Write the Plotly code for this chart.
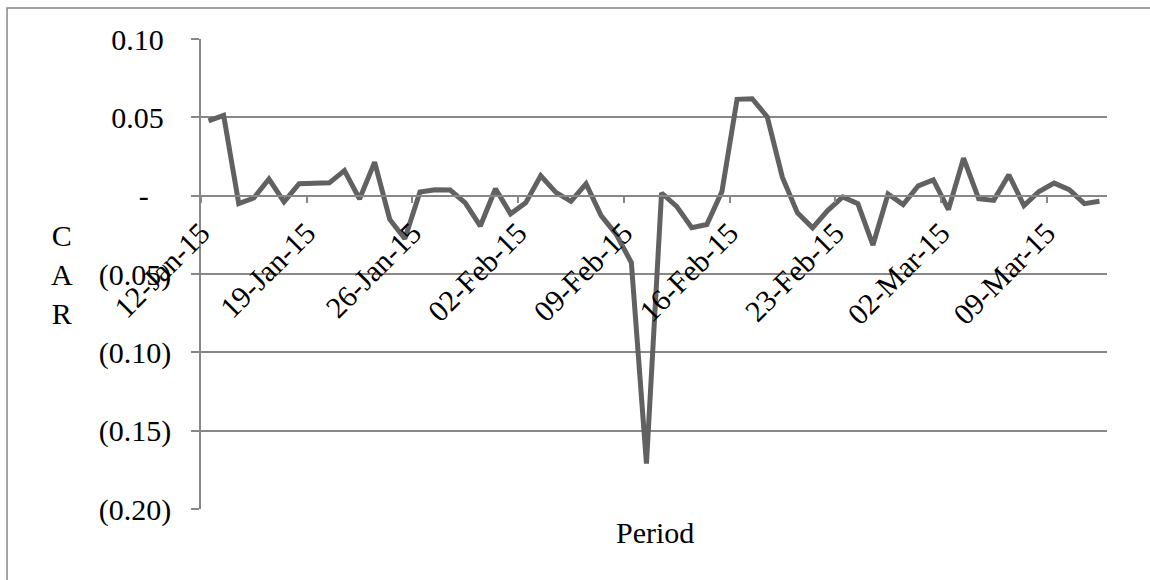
import plotly.graph_objects as go
import pandas as pd

# Daily observation dates (calendar days)
dates = pd.date_range("2015-01-12", periods=60, freq="D")

# Cumulative abnormal return values
car = [0.0477, 0.0513, -0.0051, -0.0015, 0.0106, -0.0040, 0.0076, 0.0082, 0.0082, 0.0160,
       -0.0021, 0.0214, -0.0152, -0.0275, 0.0023, 0.0038, 0.0036, -0.0046, -0.0194, 0.0044,
       -0.0116, -0.0046, 0.0127, 0.0021, -0.0036, 0.0076, -0.0127, -0.0247, -0.0427, -0.1710,
       0.0017, -0.0068, -0.0205, -0.0184, 0.0027, 0.0615, 0.0619, 0.0503, 0.0118, -0.0110,
       -0.0205, -0.0095, -0.0008, -0.0051, -0.0315, 0.0011, -0.0057, 0.0063, 0.0101, -0.0089,
       0.0239, -0.0019, -0.0030, 0.0133, -0.0063, 0.0027, 0.0080, 0.0038, -0.0051, -0.0036]

# Axis ticks
x_tick_dates = ["2015-01-12", "2015-01-19", "2015-01-26", "2015-02-02", "2015-02-09",
                "2015-02-16", "2015-02-23", "2015-03-02", "2015-03-09"]
x_tick_labels = ["12-Jan-15", "19-Jan-15", "26-Jan-15", "02-Feb-15", "09-Feb-15",
                 "16-Feb-15", "23-Feb-15", "02-Mar-15", "09-Mar-15"]
y_tick_vals = [0.10, 0.05, 0.0, -0.05, -0.10, -0.15, -0.20]
y_tick_labels = ["0.10", "0.05", "-", "(0.05)", "(0.10)", "(0.15)", "(0.20)"]

NB = "\u00a0"
y_tick_text = []
for t in y_tick_labels:
    if t.startswith("("):
        y_tick_text.append(t)
    elif t == "-":
        y_tick_text.append(t + NB * 3)
    else:
        y_tick_text.append(t + NB)

FONT = "Liberation Serif, Times New Roman, serif"
GRID = "#878787"
FS = 30

# points sit in the middle of each day (between tick marks)
x_pts = dates + pd.Timedelta(hours=12)

fig = go.Figure()
fig.add_trace(go.Scatter(x=x_pts, y=car, mode="lines",
                         line=dict(color="#616161", width=5),
                         hoverinfo="skip", showlegend=False))

y_min, y_max = -0.20, 0.10
zero_pos = (0 - y_min) / (y_max - y_min)

fig.update_layout(
    width=1150, height=580,
    margin=dict(l=201, r=43, t=39, b=71),
    paper_bgcolor="white", plot_bgcolor="white",
    font=dict(family=FONT, size=FS, color="black"),
    xaxis=dict(
        type="date",
        range=["2015-01-12", "2015-03-13"],
        tickvals=x_tick_dates, ticktext=x_tick_labels,
        tickangle=-45,
        anchor="free", position=zero_pos,
        showline=True, linecolor=GRID, linewidth=1.5,
        ticks="outside", ticklen=7, tickcolor=GRID, tickwidth=1.5,
        showgrid=False, zeroline=False,
        tickfont=dict(family=FONT, size=FS, color="black"),
    ),
    yaxis=dict(
        range=[y_min, y_max],
        tickvals=y_tick_vals, ticktext=y_tick_text,
        showline=True, linecolor=GRID, linewidth=1.5,
        ticks="outside", ticklen=8, tickcolor=GRID, tickwidth=1.5,
        showgrid=True, gridcolor=GRID, gridwidth=1.5,
        zeroline=False,
        ticklabelstandoff=14,
        tickfont=dict(family=FONT, size=FS, color="black"),
    ),
    shapes=[dict(type="rect", xref="paper", yref="paper",
                 x0=-0.2141, x1=1.2, y0=-0.3, y1=1.066,
                 line=dict(color=GRID, width=1.5), fillcolor="rgba(0,0,0,0)",
                 layer="below")],
    annotations=[
        dict(text="C<br>A<br>R", xref="paper", yref="paper", x=-0.1534, y=0.498,
             xanchor="center", yanchor="middle", showarrow=False,
             font=dict(family=FONT, size=FS, color="black")),
        dict(text="Period", xref="paper", yref="paper", x=0.501, y=-0.051,
             xanchor="center", yanchor="middle", showarrow=False,
             font=dict(family=FONT, size=FS, color="black")),
    ],
)

fig.write_html("out.html")
